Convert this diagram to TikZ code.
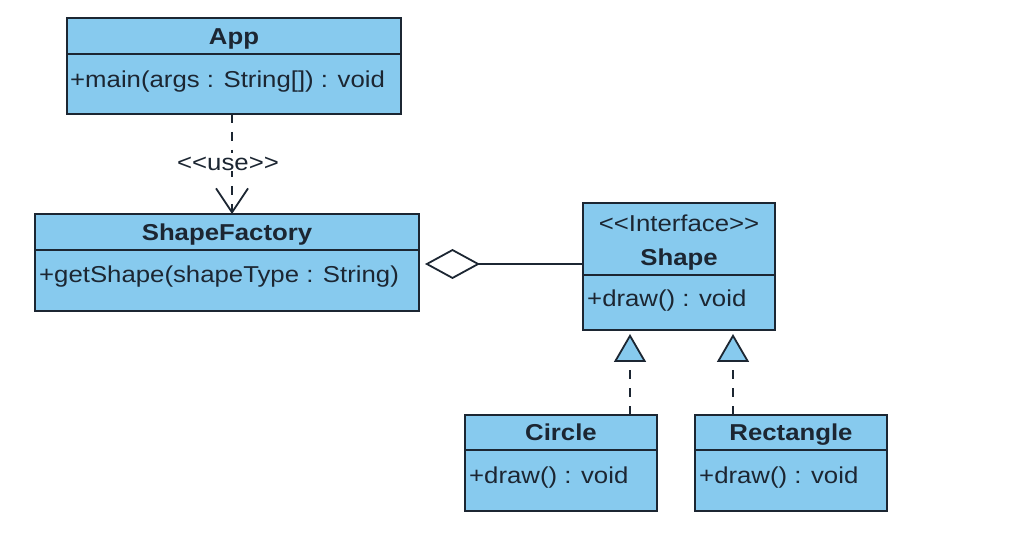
\documentclass[tikz,border=0pt]{standalone}
\usepackage{fontspec}
\setmainfont{Liberation Sans}[FakeStretch=1.12]
\usetikzlibrary{arrows.meta,calc}
\definecolor{boxblue}{RGB}{135,202,238}
\definecolor{ink}{RGB}{28,38,50}
\newcommand\ltlt{<\kern0pt<}
\newcommand\gtgt{>\kern0pt>}
\begin{document}
\begin{tikzpicture}[x=1pt,y=-1pt,
  box/.style={draw=ink, fill=boxblue, line width=1.8pt, rectangle, anchor=north west, inner sep=0pt, outer sep=0pt, text=ink, text height=16.5pt, text depth=0pt, font=\fontsize{23}{28}\selectfont\bfseries},
  optxt/.style={text=ink, font=\fontsize{23}{28}\selectfont, text height=16.5pt, text depth=0pt, inner sep=0pt, anchor=west},
  intxt/.style={text=ink, font=\fontsize{23}{28}\selectfont, text height=16.5pt, text depth=0pt, inner sep=0pt},
  conn/.style={draw=ink, line width=1.8pt},
  dashline/.style={dash pattern=on 9pt off 9pt}
]
\useasboundingbox[fill=white] (0,0) rectangle (1028,534);

% App
\node[box, minimum width=334pt, minimum height=36pt] (apptitle) at (67,18) {App};
\node[box, minimum width=334pt, minimum height=60pt] (appbody) at (apptitle.south west) {};
\node[optxt] (appop) at ($(appbody.north west)+(3,25)$) {+main(args : String[]) : void};

% ShapeFactory
\node[box, minimum width=384pt, minimum height=36pt] (sftitle) at (35,214) {ShapeFactory};
\node[box, minimum width=384pt, minimum height=61pt] (sfbody) at (sftitle.south west) {};
\node[optxt] (sfop) at ($(sfbody.north west)+(4,24)$) {+getShape(shapeType : String)};

% Shape
\node[box, minimum width=192pt, minimum height=72pt] (shtitle) at (583,203) {};
\node[intxt] (shstereo) at ($(shtitle.north)+(0,20)$) {\ltlt Interface\gtgt};
\node[intxt, font=\fontsize{23}{28}\selectfont\bfseries] (shname) at ($(shtitle.north)+(0,54)$) {Shape};
\node[box, minimum width=192pt, minimum height=55pt] (shbody) at (shtitle.south west) {};
\node[optxt] (shop) at ($(shbody.north west)+(4,23)$) {+draw() : void};

% Circle
\node[box, minimum width=192pt, minimum height=35pt] (cititle) at (465,415) {Circle};
\node[box, minimum width=192pt, minimum height=61pt] (cibody) at (cititle.south west) {};
\node[optxt] (ciop) at ($(cibody.north west)+(4,25)$) {+draw() : void};

% Rectangle
\node[box, minimum width=192pt, minimum height=35pt] (retitle) at (695,415) {Rectangle};
\node[box, minimum width=192pt, minimum height=61pt] (rebody) at (retitle.south west) {};
\node[optxt] (reop) at ($(rebody.north west)+(4,25)$) {+draw() : void};

% use dependency
\coordinate (usetop) at ($(appbody.south west)+(165,0)$);
\draw[conn, dashline, -{Straight Barb[length=24pt,width=32pt]}] (usetop) -- (usetop |- sftitle.north);
\node[intxt, fill=white, inner sep=1pt] (uselbl) at (228,162) {\ltlt use\gtgt};

% aggregation
\coordinate (agg) at ($(sfbody.north east)+(6,14)$);
\draw[conn, {Diamond[open,length=55pt,width=30pt]}-] (agg) -- (agg -| shtitle.west);

% realizations
\coordinate (r1) at ($(shbody.south)+(-49,0)$);
\coordinate (r2) at ($(shbody.south)+(54,0)$);
\draw[conn, dashline, -{Triangle[fill=boxblue,length=28pt,width=32pt]}] (r1 |- cititle.north) -- ($(r1)+(0,4)$);
\draw[conn, dashline, -{Triangle[fill=boxblue,length=28pt,width=32pt]}] (r2 |- retitle.north) -- ($(r2)+(0,4)$);
\end{tikzpicture}
\end{document}
